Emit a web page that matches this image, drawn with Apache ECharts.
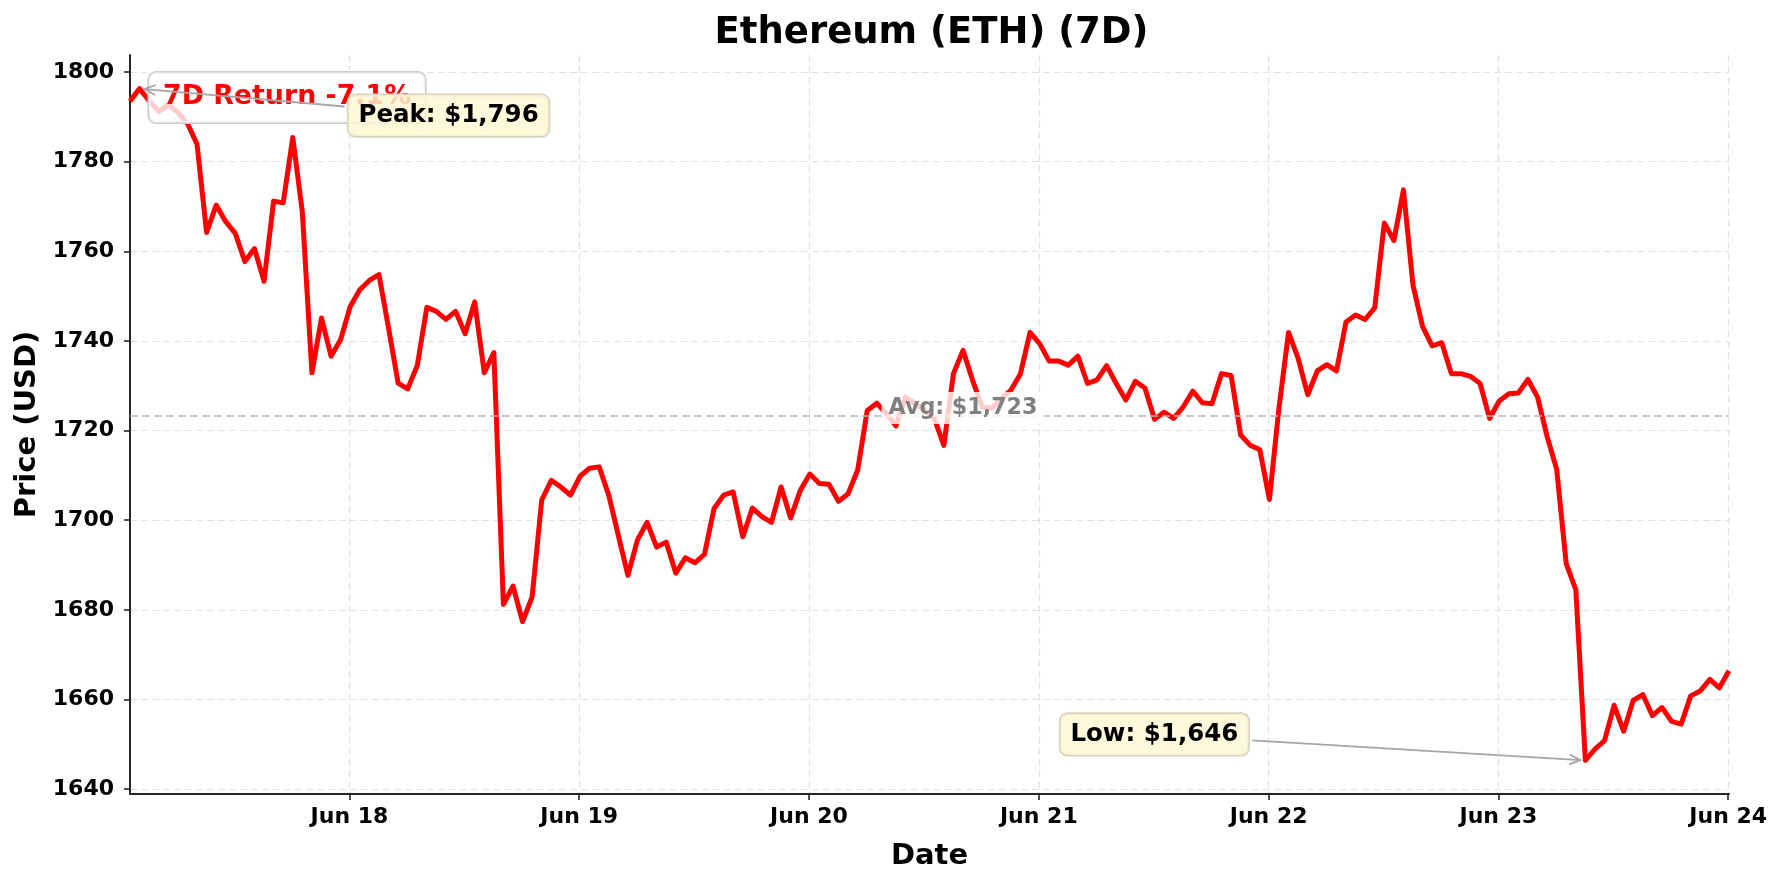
<!DOCTYPE html>
<html>
<head>
<meta charset="utf-8">
<title>Ethereum (ETH) (7D)</title>
<script src="https://cdn.jsdelivr.net/npm/echarts@6/dist/echarts.min.js"></script>
<style>
  html, body { margin: 0; padding: 0; background: #fff; }
  #chart { width: 1783px; height: 884px; }
</style>
</head>
<body>
<div id="chart"></div>
<script>
// hourly closes, first point Jun 17 01:05
var startTime = '2023-06-17T01:05:00'
var prices = [
  1793.5, 1796.3, 1793.6, 1791.2, 1792.7, 1791.0, 1788.5, 1783.9, 1764.2, 1770.3,
  1766.6, 1764.0, 1757.7, 1760.6, 1753.3, 1771.2, 1770.8, 1785.4, 1768.7, 1732.9,
  1745.1, 1736.6, 1740.3, 1747.7, 1751.4, 1753.5, 1754.8, 1742.9, 1730.6, 1729.3,
  1734.5, 1747.5, 1746.6, 1744.8, 1746.6, 1741.6, 1748.7, 1732.9, 1737.4, 1681.2,
  1685.3, 1677.4, 1682.9, 1704.5, 1708.9, 1707.4, 1705.6, 1709.8, 1711.6, 1711.9,
  1705.6, 1696.6, 1687.7, 1695.6, 1699.5, 1694.0, 1695.1, 1688.2, 1691.6, 1690.5,
  1692.4, 1702.6, 1705.6, 1706.3, 1696.3, 1702.7, 1700.8, 1699.5, 1707.4, 1700.5,
  1706.6, 1710.3, 1708.2, 1708.0, 1704.2, 1705.9, 1711.2, 1724.5, 1726.1, 1723.8,
  1721.0, 1727.5, 1726.0, 1724.5, 1722.7, 1716.7, 1732.7, 1737.9, 1731.2, 1725.3,
  1725.0, 1727.1, 1729.0, 1732.7, 1741.9, 1739.4, 1735.5, 1735.5, 1734.6, 1736.6,
  1730.5, 1731.3, 1734.5, 1730.5, 1726.8, 1731.0, 1729.5, 1722.5, 1724.1, 1722.7,
  1725.3, 1728.8, 1726.2, 1726.0, 1732.7, 1732.3, 1719.0, 1716.7, 1715.7, 1704.6,
  1725.1, 1741.9, 1736.1, 1728.0, 1733.3, 1734.7, 1733.3, 1744.2, 1745.8, 1744.8,
  1747.4, 1766.3, 1762.4, 1773.7, 1752.4, 1743.2, 1738.9, 1739.6, 1732.7, 1732.7,
  1732.1, 1730.5, 1722.7, 1726.6, 1728.2, 1728.4, 1731.4, 1727.5, 1718.7, 1711.4,
  1690.3, 1684.5, 1646.4, 1648.9, 1650.8, 1658.7, 1652.9, 1659.8, 1661.1, 1656.4,
  1658.2, 1655.1, 1654.5, 1660.8, 1661.9, 1664.5, 1662.6, 1666.4
]
var xTickDates = ['2023-06-18T00:00:00', '2023-06-19T00:00:00', '2023-06-20T00:00:00', '2023-06-21T00:00:00',
  '2023-06-22T00:00:00', '2023-06-23T00:00:00', '2023-06-24T00:00:00']
var xTickLabels = ['Jun 18', 'Jun 19', 'Jun 20', 'Jun 21', 'Jun 22', 'Jun 23', 'Jun 24']
var yTicks = [1640, 1660, 1680, 1700, 1720, 1740, 1760, 1780, 1800]

var FONT = '"DejaVu Sans", "Liberation Sans", sans-serif'
var t0 = new Date(startTime).getTime()
var times = prices.map(function (p, i) { return t0 + i * 3600 * 1000 })
var xTicks = xTickDates.map(function (d) { return new Date(d).getTime() })
var seriesData = prices.map(function (p, i) { return [times[i], p] })

var maxP = Math.max.apply(null, prices)
var minP = Math.min.apply(null, prices)
var peakIdx = prices.indexOf(maxP)
var lowIdx = prices.indexOf(minP)
var avgP = prices.reduce(function (a, b) { return a + b }, 0) / prices.length
var ret = (prices[prices.length - 1] / prices[0] - 1) * 100
var pad = (maxP - minP) * 0.05

function money(v) {
  return '$' + Math.round(v).toLocaleString('en-US')
}

var gridL = 130, gridR = 54, gridT = 55, gridB = 90

var chartDom = document.getElementById('chart')
var myChart = echarts.init(chartDom)
var option = {
  animation: false,
  backgroundColor: '#ffffff',
  textStyle: { fontFamily: FONT },
  grid: { left: gridL, right: gridR, top: gridT, bottom: gridB },
  xAxis: {
    type: 'value',
    min: times[0],
    max: times[times.length - 1],
    name: 'Date',
    nameLocation: 'middle',
    nameGap: 48,
    nameTextStyle: { fontSize: 29, fontWeight: 'bold', color: '#000', fontFamily: FONT },
    axisLine: { lineStyle: { color: '#262626', width: 2 } },
    axisTick: { show: true, length: 6, customValues: xTicks, lineStyle: { color: '#262626', width: 1.6 } },
    axisLabel: {
      customValues: xTicks,
      margin: 12,
      fontSize: 22,
      fontWeight: 'bold',
      color: '#000',
      fontFamily: FONT,
      formatter: function (v) {
        var k = xTicks.indexOf(v)
        return k >= 0 ? xTickLabels[k] : ''
      }
    },
    splitLine: { show: true, lineStyle: { color: '#e2e2e2', width: 1.2, type: [7, 4] } }
  },
  yAxis: {
    type: 'value',
    min: minP - pad,
    max: maxP + pad,
    name: 'Price (USD)',
    nameLocation: 'middle',
    nameGap: 80,
    nameTextStyle: { fontSize: 29, fontWeight: 'bold', color: '#000', fontFamily: FONT },
    axisLine: { show: true, lineStyle: { color: '#262626', width: 2 } },
    axisTick: { show: true, length: 6, customValues: yTicks, lineStyle: { color: '#262626', width: 1.6 } },
    axisLabel: {
      customValues: yTicks, margin: 16, fontSize: 22, fontWeight: 'bold', color: '#000', fontFamily: FONT,
      formatter: function (v) { return String(Math.round(v)) }
    },
    splitLine: { show: true, lineStyle: { color: '#e2e2e2', width: 1.2, type: [7, 4] } }
  },
  series: [
    {
      name: 'ETH',
      type: 'line',
      data: seriesData,
      showSymbol: false,
      lineStyle: { color: '#ff0000', width: 5, join: 'round' },
      z: 3,
      markLine: {
        silent: true,
        symbol: 'none',
        label: { show: false },
        lineStyle: { color: '#b4b4b4', width: 1.6, type: [8, 4] },
        data: [{ yAxis: avgP }]
      }
    }
  ]
}
myChart.setOption(option)

// 注释框和箭头
function px(i) {
  return myChart.convertToPixel({ gridIndex: 0 }, [times[i], prices[i]])
}

function arrow(cx, cy, hw, hh, tx, ty) {
  var dx = tx - cx, dy = ty - cy
  var len = Math.sqrt(dx * dx + dy * dy)
  dx /= len; dy /= len
  var tEdge = Math.min(hw / Math.abs(dx || 1e-9), hh / Math.abs(dy || 1e-9))
  var sx = cx + dx * (tEdge + 4), sy = cy + dy * (tEdge + 4)
  var ex = tx - dx * 5, ey = ty - dy * 5
  var nx = -dy, ny = dx
  var bx = ex - dx * 11, by = ey - dy * 11
  var style = { stroke: '#a6a6a6', lineWidth: 1.8, fill: null }
  return [
    { type: 'line', z: 20, shape: { x1: sx, y1: sy, x2: ex, y2: ey }, style: style },
    { type: 'polyline', z: 20, shape: { points: [[bx + nx * 5, by + ny * 5], [ex, ey], [bx - nx * 5, by - ny * 5]] }, style: style }
  ]
}

function box(text, x, y, font, color, bg, border, padding, lh, z) {
  return {
    type: 'text', z: z,
    style: {
      text: text, x: x, y: y, font: font, fill: color,
      align: 'center', verticalAlign: 'middle',
      backgroundColor: bg, borderColor: border, borderWidth: border ? 1.6 : 0,
      borderRadius: 7, padding: padding, lineHeight: lh
    }
  }
}

var pk = px(peakIdx)
var lw = px(lowIdx)
var avgPt = myChart.convertToPixel({ gridIndex: 0 }, [times[87], avgP])
var plotW = 1783 - gridL - gridR

var els = []
els.push(box('Ethereum (ETH) (7D)', gridL + plotW / 2 + 2, 33, 'bold 37px ' + FONT, '#000', null, null, 0, 40, 5))
els.push(box('7D Return ' + ret.toFixed(1) + '%', gridL + 157, gridT + 42.5, 'bold 26.8px ' + FONT, '#ff0000',
  'rgba(255,255,255,0.8)', '#cccccc', [9, 14], 32, 10))
els.push(box('Avg: ' + money(avgP), avgPt[0], avgPt[1] - 8, 'bold 22.2px ' + FONT, '#808080',
  'rgba(255,255,255,0.8)', null, [3, 7], 26, 10))

var pcx = pk[0] + 309, pcy = pk[1] + 27
els = els.concat(arrow(pcx, pcy, 100, 20, pk[0], pk[1]))
els.push(box('Peak: ' + money(maxP), pcx, pcy, 'bold 24.5px ' + FONT, '#000',
  'rgba(255,248,212,0.82)', '#d9d4bf', [6, 10], 29, 22))

var lcx = lw[0] - 431, lcy = lw[1] - 26
els = els.concat(arrow(lcx, lcy, 94, 20, lw[0], lw[1]))
els.push(box('Low: ' + money(minP), lcx, lcy, 'bold 24.5px ' + FONT, '#000',
  'rgba(255,248,212,0.82)', '#d9d4bf', [6, 10], 29, 22))

myChart.setOption({ graphic: { elements: els } })

window.addEventListener('resize', function () {
  myChart.resize()
})
</script>
</body>
</html>
